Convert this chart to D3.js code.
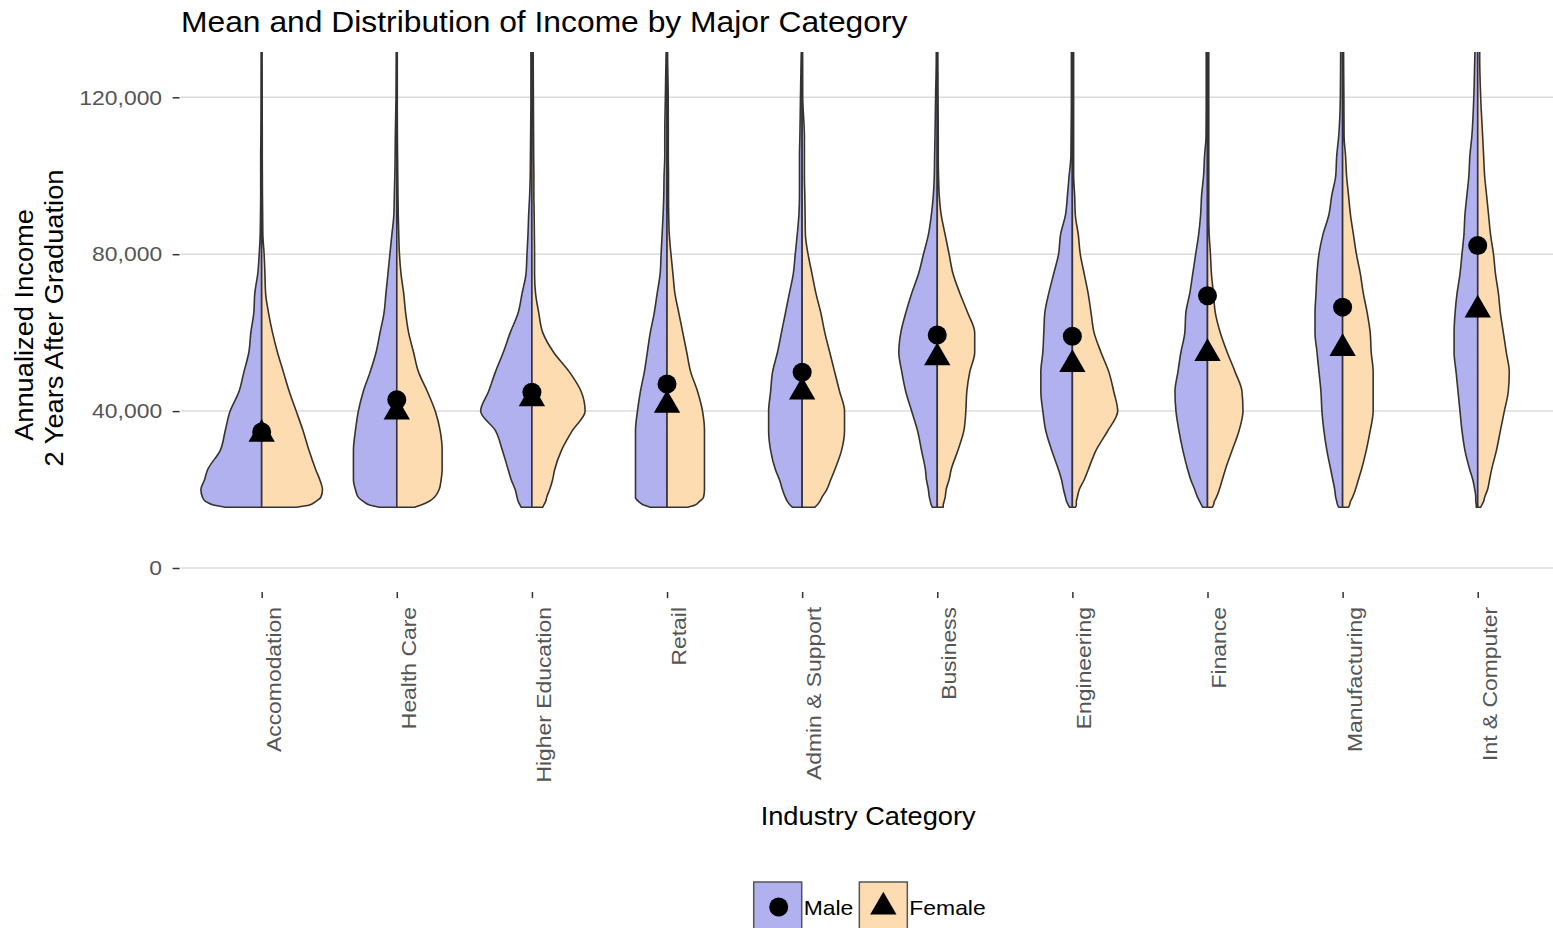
<!DOCTYPE html>
<html>
<head>
<meta charset="utf-8">
<script src="https://cdn.jsdelivr.net/npm/d3@7"></script>
<style>
  body { margin: 0; background: #fff; }
  svg { display: block; font-family: "Liberation Sans", Arial, sans-serif; }
</style>
</head>
<body>
<svg id="drawing_region"></svg>
<script>
// industry categories, in plot order
const categories = ['Accomodation', 'Health Care', 'Higher Education', 'Retail', 'Admin & Support',
    'Business', 'Engineering', 'Finance', 'Manufacturing', 'Int & Computer'];

const incomeLevels = [15.5, 16, 17, 18, 20, 22.5, 25, 30, 35, 40, 45, 50, 55, 60, 65, 70, 75, 80, 85, 90,
    95, 100, 105, 110, 120, 130, 135];

// relative density (area-scaled, 61.7 = widest violin) per category
const maleDensity = [
    [37, 48, 57, 60, 61.7, 58, 55, 42, 37, 32, 23, 18, 13, 11, 8, 7, 4, 2.5, 1.5, 1.2, 1, 1, 1, 0.8, 0.6, 0.5, 0.5],
    [18, 27, 34, 39, 42, 44, 44, 44, 42, 39, 34, 27, 21, 17, 13, 11, 9, 7, 5, 3, 2.5, 2, 1.7, 1.5, 0.8, 0.6, 0.6],
    [11, 12, 14, 15, 17, 21, 24, 30, 37, 52, 44, 37, 29, 22, 14, 10, 6, 5, 4, 3.3, 2.3, 1.7, 1.5, 1.3, 1, 1, 1],
    [17, 23, 29, 32, 32, 32, 32, 32, 32, 30, 27, 23, 20, 17, 13, 10, 7, 6, 5, 4, 3.3, 3, 2.3, 2.3, 1.7, 1, 0.6],
    [10, 12, 15, 17, 20, 23, 27, 32, 34, 34, 32, 30, 25, 21, 17, 13, 9, 7, 5, 3.3, 2.7, 2.7, 2.7, 2.3, 1.7, 1, 0.6],
    [5, 6, 7, 8, 9, 11, 12, 16, 20, 26, 32, 36, 39, 37, 32, 26, 19, 14, 9, 6, 4, 3, 2.7, 2.3, 1.7, 1, 1],
    [3, 4, 6, 7, 9, 11, 14, 21, 27, 30, 32, 32, 30, 29, 28, 24, 19, 14, 12, 7, 5, 3.3, 1.5, 1.3, 1, 1, 1],
    [5, 6, 8, 10, 13, 17, 20, 25, 29, 32, 33, 30, 27, 23, 22, 18, 15, 12, 9, 7, 6, 4, 3, 1.5, 1.3, 1.3, 1.3],
    [4, 5, 6, 7, 8, 10, 12, 16, 19, 21, 22, 24, 26, 28, 28, 27, 26, 24, 20, 14, 11, 7, 6, 4, 2.3, 2, 2],
    [1.5, 1.5, 2, 2, 3, 5, 8, 13, 16, 18, 20, 22, 24, 24, 23, 21, 18, 16, 14, 13, 11, 9, 8, 6, 4, 3, 2.5]
];
const femaleDensity = [
    [35, 48, 55, 60, 61.7, 59, 55, 48, 42, 35, 28, 22, 16, 11, 7, 4, 3.3, 2.5, 1.2, 1, 0.8, 0.7, 0.6, 0.6, 0.5, 0.4, 0.4],
    [18, 24, 33, 38, 43, 45, 46, 46, 44, 39, 31, 22, 17, 12, 9, 7, 4.3, 2.7, 2, 1.5, 1.2, 1, 0.8, 0.6, 0.5, 0.5, 0.5],
    [11, 12, 14, 15, 18, 21, 23, 30, 41, 54, 50, 38, 22, 11, 7, 3.7, 2.7, 2.7, 2.5, 2.3, 2, 2, 1.8, 1.7, 1.5, 1.3, 1.3],
    [21, 28, 33, 37, 38, 38, 38, 38, 38, 36, 31, 24, 20, 16, 12, 8, 6, 4, 2.3, 1.7, 1.5, 1.5, 1.3, 1.3, 1.2, 0.6, 0.5],
    [13, 15, 18, 20, 25, 29, 33, 40, 43, 43, 38, 33, 28, 23, 19, 14, 10, 6, 3.3, 3, 2.7, 2.3, 2.3, 2.3, 0.6, 0.5, 0.5],
    [6, 6, 7, 8, 9, 12, 14, 21, 27, 29, 30, 33, 38, 38, 31, 23, 16, 12, 8, 4, 2, 1.3, 1, 1, 0.8, 0.6, 0.6],
    [3, 4, 4, 5, 7, 12, 16, 24, 36, 46, 42, 37, 29, 22, 19, 16, 12, 8, 6, 3, 2.3, 1.3, 1.3, 1.3, 1.3, 1.3, 1.3],
    [5, 6, 7, 9, 12, 15, 18, 25, 32, 36, 35, 28, 20, 13, 8, 6, 4, 3, 1.7, 1.3, 1.3, 1.3, 1.3, 1.3, 1.3, 1.3, 1.3],
    [6, 7, 8, 10, 13, 16, 19, 24, 28, 31, 31, 31, 29, 28, 25, 21, 18, 14, 11, 8, 6, 4, 3, 1.5, 1.3, 1, 1],
    [3, 4, 6, 7, 10, 12, 14, 19, 23, 27, 31, 32, 29, 26, 23, 21, 18, 16, 13, 11, 9, 7, 6, 5, 3, 2, 2]
];

// mean income per category
const maleMean = [34700, 42900, 44800, 46900, 49900, 59400, 59100, 69400, 66500, 82200];
const femaleMean = [34100, 39800, 43200, 41500, 44900, 53600, 51900, 54700, 56000, 65800];

const yTicks = [0, 40000, 80000, 120000];
const genders = ['Male', 'Female'];

const colors = { Male: '#b1b1ef', Female: '#fedcb1' };
const STRETCH = 1.09; // the source fonts render a bit wider than Arial

function stretch(sel, factor) {
    sel.each(function () {
        const len = this.getComputedTextLength();
        d3.select(this).attr('textLength', len * (factor || STRETCH)).attr('lengthAdjust', 'spacingAndGlyphs');
    });
}

class ViolinChart {
    constructor(config) {
        this.config = config;
        this.init();
    }

    init() {
        let self = this;
        const c = self.config;

        self.svg = d3.select(c.parent)
            .attr('width', c.width)
            .attr('height', c.height);

        self.xscale = d3.scalePoint()
            .domain(categories)
            .range([c.panel.left, c.panel.right])
            .padding(0.6);

        self.yscale = d3.scaleLinear()
            .domain([-6120, 131550])
            .range([c.panel.bottom, c.panel.top]);

        self.wscale = d3.scaleLinear()
            .domain([0, 61.7])
            .range([0, self.xscale.step() * 0.45]);

        self.svg.append('clipPath').attr('id', 'panel-clip')
            .append('rect')
            .attr('x', c.panel.left)
            .attr('y', c.panel.top)
            .attr('width', c.panel.right - c.panel.left)
            .attr('height', c.panel.bottom - c.panel.top);
    }

    render() {
        let self = this;
        const c = self.config;
        const fmt = d3.format(',');

        // gridlines
        self.svg.append('g')
            .selectAll('line')
            .data(yTicks)
            .join('line')
            .attr('x1', c.panel.left)
            .attr('x2', c.panel.right)
            .attr('y1', d => self.yscale(d))
            .attr('y2', d => self.yscale(d))
            .attr('stroke', '#dcdcdc')
            .attr('stroke-width', 1.5);

        // violins
        const violins = [];
        categories.forEach((cat, i) => {
            violins.push({ cat: cat, gender: 'Male', side: -1, dens: maleDensity[i] });
            violins.push({ cat: cat, gender: 'Female', side: 1, dens: femaleDensity[i] });
        });

        const vg = self.svg.append('g').attr('clip-path', 'url(#panel-clip)');
        vg.selectAll('path')
            .data(violins)
            .join('path')
            .attr('d', v => {
                const cx = self.xscale(v.cat);
                const pts = incomeLevels.map((k, j) => ({ k: k * 1000, w: v.dens[j] }));
                return d3.area()
                    .y(d => self.yscale(d.k))
                    .x0(cx)
                    .x1(d => cx + v.side * self.wscale(d.w))
                    .curve(d3.curveMonotoneY)(pts);
            })
            .attr('fill', v => colors[v.gender])
            .attr('stroke', '#333')
            .attr('stroke-width', 1.6)
            .attr('stroke-linejoin', 'round');

        // means
        const pg = self.svg.append('g');
        pg.selectAll('circle')
            .data(maleMean)
            .join('circle')
            .attr('cx', (d, i) => self.xscale(categories[i]))
            .attr('cy', d => self.yscale(d))
            .attr('r', 9.5)
            .attr('fill', '#000');

        const tri = d3.symbol(d3.symbolTriangle, 300);
        pg.selectAll('path')
            .data(femaleMean)
            .join('path')
            .attr('d', tri)
            .attr('transform', (d, i) => `translate(${self.xscale(categories[i])},${self.yscale(d)})`)
            .attr('fill', '#000');

        // y axis
        const yaxis = d3.axisLeft(self.yscale)
            .tickValues(yTicks)
            .tickFormat(fmt)
            .tickSize(7)
            .tickPadding(10.5);
        const yg = self.svg.append('g')
            .attr('transform', `translate(${c.panel.left - 1}, 0)`)
            .call(yaxis);
        yg.select('.domain').remove();
        yg.selectAll('.tick line').attr('stroke', '#333').attr('stroke-width', 1.5);
        yg.selectAll('.tick text')
            .attr('font-size', 21)
            .attr('font-family', '"Liberation Sans", Arial, sans-serif')
            .attr('fill', '#555')
            .call(stretch);

        // x axis
        const xaxis = d3.axisBottom(self.xscale)
            .tickSize(6);
        const xg = self.svg.append('g')
            .attr('transform', `translate(0, ${c.panel.bottom})`)
            .call(xaxis);
        xg.select('.domain').remove();
        xg.selectAll('.tick line').attr('stroke', '#333').attr('stroke-width', 1.5);
        xg.selectAll('.tick text')
            .attr('font-size', 21)
            .attr('font-family', '"Liberation Sans", Arial, sans-serif')
            .attr('fill', '#555')
            .attr('transform', 'rotate(-90)')
            .attr('text-anchor', 'end')
            .attr('x', -15)
            .attr('y', 18.5)
            .attr('dy', null)
            .call(stretch);

        // titles
        self.svg.append('text')
            .attr('x', 181)
            .attr('y', 32)
            .attr('font-size', 30)
            .attr('fill', '#000')
            .text('Mean and Distribution of Income by Major Category')
            .call(stretch, 1.06);

        self.svg.append('text')
            .attr('transform', 'translate(33, 325) rotate(-90)')
            .attr('text-anchor', 'middle')
            .attr('font-size', 25)
            .text('Annualized Income')
            .call(stretch);

        self.svg.append('text')
            .attr('transform', 'translate(63, 318) rotate(-90)')
            .attr('text-anchor', 'middle')
            .attr('font-size', 25)
            .text('2 Years After Graduation')
            .call(stretch);

        const midx = (c.panel.left + c.panel.right) / 2;
        self.svg.append('text')
            .attr('x', midx - 1.5)
            .attr('y', 825)
            .attr('text-anchor', 'middle')
            .attr('font-size', 25)
            .text('Industry Category')
            .call(stretch);

        // legend
        const key = 48;
        const lg = self.svg.append('g');
        const items = lg.selectAll('g')
            .data(genders)
            .join('g');
        items.append('rect')
            .attr('width', key)
            .attr('height', key)
            .attr('fill', d => colors[d])
            .attr('stroke', '#555')
            .attr('stroke-width', 1.5);
        items.append('text')
            .attr('x', key + 2)
            .attr('y', 33)
            .attr('font-size', 21)
            .text(d => d)
            .call(stretch);
        items.filter(d => d === 'Male').append('circle')
            .attr('cx', key / 2 + 1)
            .attr('cy', key / 2 + 1)
            .attr('r', 9.5);
        items.filter(d => d === 'Female').append('path')
            .attr('d', tri)
            .attr('transform', `translate(${key / 2}, ${key / 2 + 1})`);

        let widths = [];
        items.each(function () {
            widths.push(key + 2 + d3.select(this).select('text').node().getComputedTextLength());
        });
        const gap = 6;
        const total = d3.sum(widths) + gap * (widths.length - 1);
        let xpos = midx - total / 2;
        items.attr('transform', (d, i) => {
            const t = `translate(${xpos}, 882)`;
            xpos += widths[i] + gap;
            return t;
        });
    }
}

const config = {
    parent: '#drawing_region',
    width: 1553,
    height: 928,
    panel: { left: 180.6, right: 1558.8, top: 52, bottom: 592 }
};

const chart = new ViolinChart(config);
chart.render();
</script>
</body>
</html>
